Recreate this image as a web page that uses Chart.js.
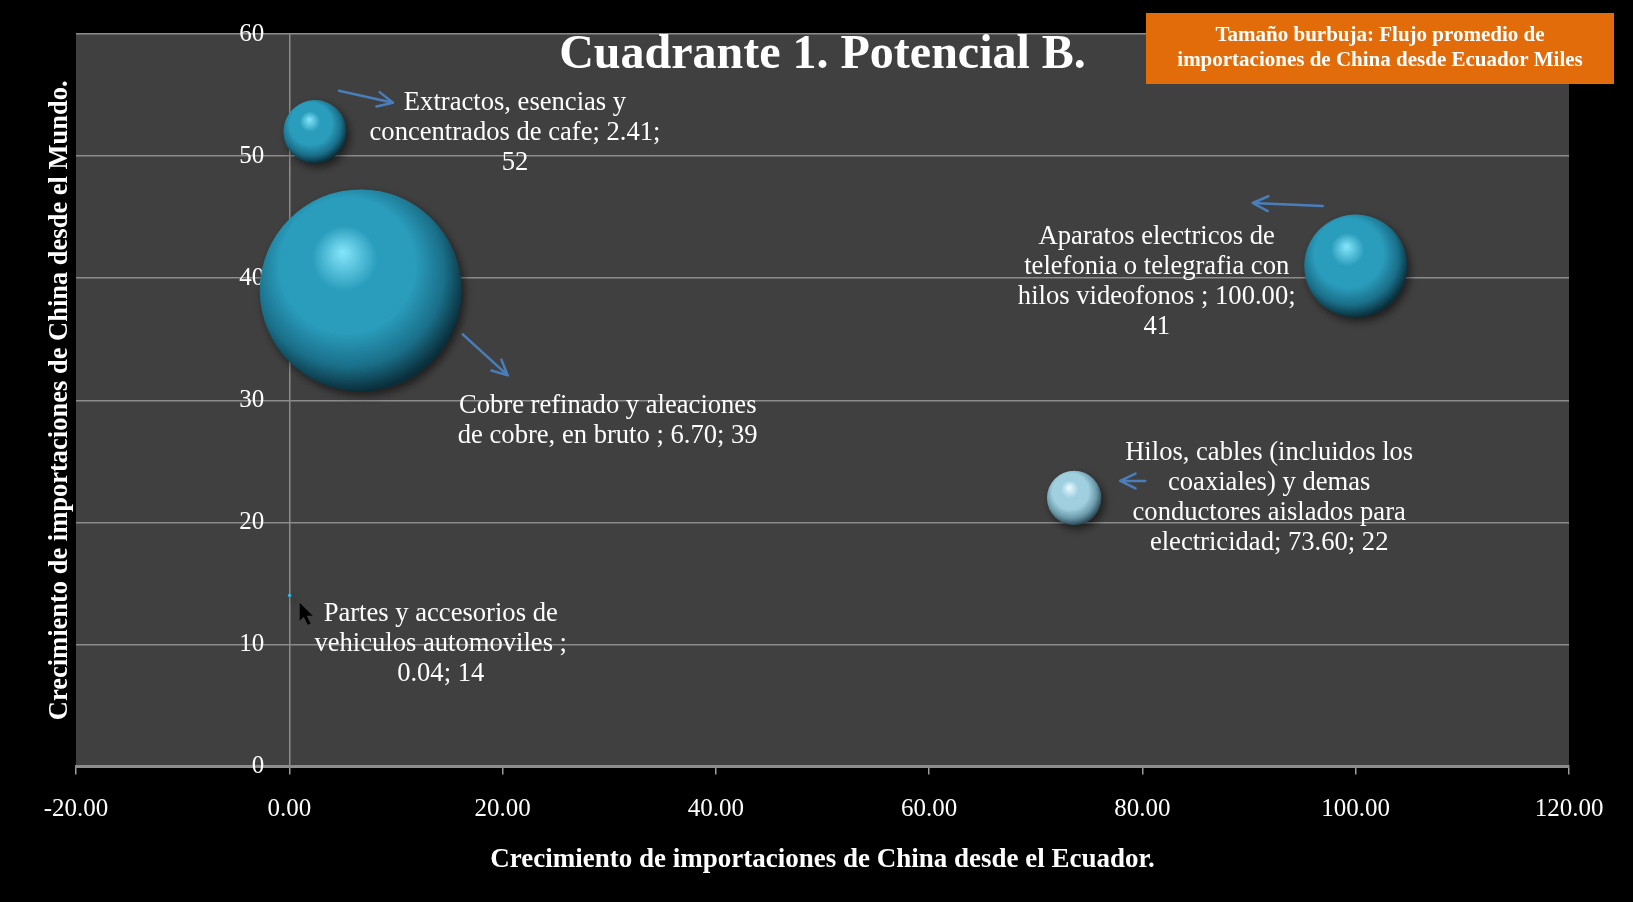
<!DOCTYPE html>
<html lang="es">
<head>
<meta charset="utf-8">
<title>Cuadrante 1. Potencial B.</title>
<script src="https://cdn.jsdelivr.net/npm/chart.js@4.4.1/dist/chart.umd.min.js"></script>
<style>
  html, body { margin: 0; padding: 0; background: #000; }
  #wrap { width: 1633px; height: 902px; }
</style>
</head>
<body>
<div id="wrap"><canvas id="bubbleChart" width="1633" height="902"></canvas></div>
<script>
// productos (tal como aparecen en las etiquetas)
const productNames = [
    'Extractos, esencias y concentrados de cafe',
    'Cobre refinado y aleaciones de cobre, en bruto ',
    'Aparatos electricos de telefonia o telegrafia con hilos videofonos ',
    'Hilos, cables (incluidos los coaxiales) y demas conductores aislados para electricidad',
    'Partes y accesorios de vehiculos automoviles '
];
// crecimiento de importaciones de China desde el Ecuador (eje X)
const growthEcuador = [2.41, 6.70, 100.00, 73.60, 0.04];
// crecimiento de importaciones de China desde el Mundo (eje Y)
const growthWorld = [52, 39, 41, 22, 14];
// flujo promedio (tamaño de burbuja), estimado por el área
const avgFlow = [1000, 10200, 2650, 740, 4];
// marcas de los ejes
const xTicks = [-20, 0, 20, 40, 60, 80, 100, 120];
const yTicks = [0, 10, 20, 30, 40, 50, 60];

const SERIF = "'Liberation Serif', 'Times New Roman', serif";
const MAX_RADIUS = 101;

// colores de cada burbuja
const palette = [
    { hi: '#86e6fb', mid: '#2a9dbd', low: '#1a6f89', edge: '#0a2e3a' },
    { hi: '#86e6fb', mid: '#2a9dbd', low: '#1a6f89', edge: '#0a2e3a' },
    { hi: '#86e6fb', mid: '#2a9dbd', low: '#1a6f89', edge: '#0a2e3a' },
    { hi: '#ecfcff', mid: '#a0cfe0', low: '#6a98a9', edge: '#2a4a56' },
    { hi: '#8eeaff', mid: '#3aaecd', low: '#2a8fae', edge: '#1b6a82' }
];

// posición de las etiquetas respecto del centro de la burbuja (px)
const labelOffsets = [[200, -29], [247, 116], [-199, -29], [195, -45], [151, 18]];
const labelWidths = [305, 310, 295, 300, 275];
// flechas azules (desde, hasta) respecto del centro de la burbuja
const arrowOffsets = [
    [[24, -41], [78, -29]],
    [[102, 44], [147, 85]],
    [[-33, -60], [-103, -63]],
    [[71, -17], [46, -17]],
    null
];

const points = growthEcuador.map((x, i) => ({
    x,
    y: growthWorld[i],
    r: MAX_RADIUS * Math.sqrt(avgFlow[i] / Math.max(...avgFlow))
}));

function bubbleFill(c) {
    const p = palette[c.dataIndex] || palette[0];
    if (c.type !== 'data' || !c.chart.scales.x || !c.chart.scales.y) return p.mid;
    const cx = c.chart.scales.x.getPixelForValue(c.raw.x);
    const cy = c.chart.scales.y.getPixelForValue(c.raw.y);
    if (!isFinite(cx) || !isFinite(cy)) return p.mid;
    const r = Math.max(c.raw.r, 1);
    const g = c.chart.ctx.createRadialGradient(cx - 0.18 * r, cy - 0.38 * r, 0,
        cx - 0.1 * r, cy - 0.15 * r, 1.15 * r);
    g.addColorStop(0, p.hi);
    g.addColorStop(0.28, p.mid);
    g.addColorStop(0.58, p.mid);
    g.addColorStop(0.82, p.low);
    g.addColorStop(1, p.edge);
    return g;
}

function wrapText(ctx, text, maxWidth) {
    const words = text.split(' ').filter(w => w.length);
    const lines = [];
    let line = '';
    words.forEach(w => {
        const test = line ? line + ' ' + w : w;
        if (line && ctx.measureText(test).width > maxWidth) {
            lines.push(line);
            line = w;
        } else {
            line = test;
        }
    });
    if (line) lines.push(line);
    return lines;
}

function drawArrow(ctx, x1, y1, x2, y2) {
    const ang = Math.atan2(y2 - y1, x2 - x1);
    const head = 17;
    ctx.beginPath();
    ctx.moveTo(x1, y1);
    ctx.lineTo(x2, y2);
    ctx.moveTo(x2 - head * Math.cos(ang - 0.45), y2 - head * Math.sin(ang - 0.45));
    ctx.lineTo(x2, y2);
    ctx.lineTo(x2 - head * Math.cos(ang + 0.45), y2 - head * Math.sin(ang + 0.45));
    ctx.stroke();
}

function drawCursor(ctx, x, y) {
    // puntero del mouse que aparece en la captura
    const pts = [[0, 0], [0, 18], [4, 14], [8, 22], [11, 21], [7, 13], [13, 13]];
    ctx.beginPath();
    pts.forEach(([px, py], i) => i ? ctx.lineTo(x + px, y + py) : ctx.moveTo(x + px, y + py));
    ctx.closePath();
    ctx.fillStyle = '#000';
    ctx.fill();
}

const decor = {
    id: 'decor',
    beforeDraw(chart) {
        const { ctx, chartArea: a } = chart;
        ctx.save();
        ctx.fillStyle = '#000';
        ctx.fillRect(0, 0, chart.width, chart.height);
        ctx.fillStyle = '#404040';
        ctx.fillRect(a.left, a.top, a.right - a.left, a.bottom - a.top);
        ctx.restore();
    },
    beforeDatasetsDraw(chart) {
        const ctx = chart.ctx;
        ctx.save();
        ctx.shadowColor = 'rgba(0,0,0,0.55)';
        ctx.shadowBlur = 8;
        ctx.shadowOffsetX = 3;
        ctx.shadowOffsetY = 4;
    },
    afterDatasetsDraw(chart) {
        const ctx = chart.ctx;
        ctx.restore();
        const meta = chart.getDatasetMeta(0);

        // etiquetas de datos
        ctx.save();
        ctx.font = `26.6px ${SERIF}`;
        ctx.fillStyle = '#ffffff';
        ctx.textAlign = 'center';
        ctx.textBaseline = 'middle';
        meta.data.forEach((el, i) => {
            const text = `${productNames[i]}; ${growthEcuador[i].toFixed(2)}; ${growthWorld[i]}`;
            const lines = wrapText(ctx, text, labelWidths[i]);
            const [dx, dy] = labelOffsets[i];
            lines.forEach((ln, k) => ctx.fillText(ln, el.x + dx, el.y + dy + k * 30));
        });
        ctx.restore();

        // flechas
        ctx.save();
        ctx.strokeStyle = '#4a7ebb';
        ctx.lineWidth = 2.5;
        ctx.lineCap = 'round';
        ctx.lineJoin = 'round';
        meta.data.forEach((el, i) => {
            const a = arrowOffsets[i];
            if (!a) return;
            drawArrow(ctx, el.x + a[0][0], el.y + a[0][1], el.x + a[1][0], el.y + a[1][1]);
        });
        const last = meta.data[4];
        drawCursor(ctx, last.x + 10, last.y + 7);
        ctx.restore();
    },
    afterDraw(chart) {
        const { ctx, chartArea: a } = chart;
        ctx.save();
        // título
        ctx.fillStyle = '#ffffff';
        ctx.font = `bold 48px ${SERIF}`;
        ctx.textAlign = 'center';
        ctx.textBaseline = 'alphabetic';
        ctx.fillText('Cuadrante 1. Potencial B.', (a.left + a.right) / 2, 68);

        // título del eje Y
        ctx.save();
        ctx.translate(60, (a.top + a.bottom) / 2);
        ctx.rotate(-Math.PI / 2);
        ctx.font = `bold 26.5px ${SERIF}`;
        ctx.textBaseline = 'middle';
        ctx.fillText('Crecimiento de importaciones de China desde el Mundo.', 0, 0);
        ctx.restore();

        // cuadro naranja
        ctx.fillStyle = '#e36c0a';
        ctx.fillRect(1146, 13, 468, 71);
        ctx.fillStyle = '#ffffff';
        ctx.font = `bold 21px ${SERIF}`;
        ctx.textBaseline = 'middle';
        ctx.fillText('Tamaño burbuja: Flujo promedio de', 1380, 36);
        ctx.fillText('importaciones de China desde Ecuador Miles', 1380, 61);
        ctx.restore();
    }
};

const chart = new Chart(document.getElementById('bubbleChart').getContext('2d'), {
    type: 'bubble',
    data: {
        datasets: [{
            label: 'Cuadrante 1',
            data: points,
            backgroundColor: bubbleFill,
            borderWidth: 0,
            hoverBorderWidth: 0
        }]
    },
    options: {
        responsive: false,
        animation: false,
        events: [],
        layout: { autoPadding: false, padding: { left: 76, right: 64, top: 34, bottom: 22 } },
        plugins: {
            legend: { display: false },
            tooltip: { enabled: false }
        },
        scales: {
            x: {
                type: 'linear',
                min: -20,
                max: 120,
                afterBuildTicks: s => { s.ticks = xTicks.map(v => ({ value: v })); },
                ticks: {
                    color: '#ffffff',
                    font: { family: SERIF, size: 25 },
                    padding: 20,
                    maxRotation: 0,
                    callback: v => Number(v).toFixed(2)
                },
                grid: {
                    drawOnChartArea: false,
                    drawTicks: true,
                    tickLength: 8,
                    color: '#9a9a9a',
                    lineWidth: 1.5
                },
                border: { color: '#8c8c8c', width: 3 },
                title: {
                    display: true,
                    text: 'Crecimiento de importaciones de China desde el Ecuador.',
                    color: '#ffffff',
                    font: { family: SERIF, size: 27, weight: 'bold' },
                    padding: { top: -1, bottom: 4 }
                }
            },
            y: {
                type: 'linear',
                position: { x: 0 },
                min: 0,
                max: 60,
                afterBuildTicks: s => { s.ticks = yTicks.map(v => ({ value: v })); },
                ticks: {
                    color: '#ffffff',
                    font: { family: SERIF, size: 25 },
                    // el espacio em separa la etiqueta de la línea del eje
                    callback: v => String(v) + '\u2003'
                },
                grid: {
                    color: '#8c8c8c',
                    lineWidth: 1.5,
                    drawTicks: false
                },
                border: { color: '#8c8c8c', width: 1.5 }
            }
        }
    },
    plugins: [decor]
});
</script>
</body>
</html>
